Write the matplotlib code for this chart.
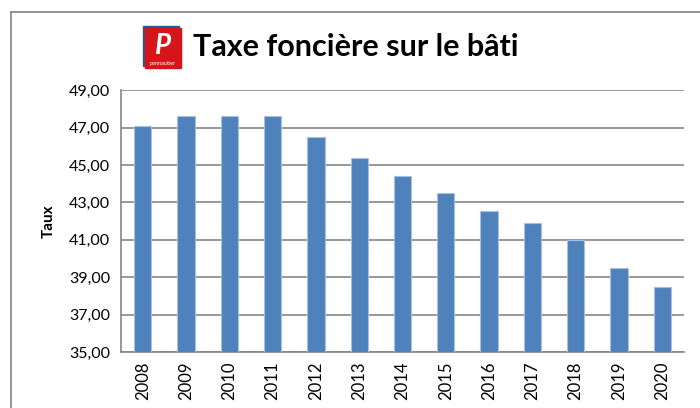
import matplotlib.pyplot as plt
from matplotlib.patches import Rectangle
from matplotlib.lines import Line2D

years = ["2008", "2009", "2010", "2011", "2012", "2013", "2014",
         "2015", "2016", "2017", "2018", "2019", "2020"]
taux = [47.10, 47.60, 47.60, 47.60, 46.50, 45.40, 44.40,
        43.50, 42.55, 41.90, 41.00, 39.50, 38.50]
yticks = [35, 37, 39, 41, 43, 45, 47, 49]

plt.rcParams['font.family'] = ['Lato', 'DejaVu Sans']

fig = plt.figure(figsize=(7, 4.08), dpi=100)
ax = fig.add_axes([0.173, 0.137, 0.804, 0.642])

x = range(len(years))
ax.bar(x, taux, width=0.4, color="#4F81BD", edgecolor="#A7C0DE",
       linewidth=0.8, zorder=3)
ax.set_xlim(-0.5, len(years) - 0.5)
ax.set_ylim(35, 49)
ax.set_yticks(yticks)
ax.set_yticklabels([f"{v:.2f}".replace(".", ",") for v in yticks], fontsize=11.5)
ax.set_xticks(list(x))
ax.set_xticklabels(years, rotation=90, fontsize=12)
ax.tick_params(axis="both", length=0, pad=8)
ax.tick_params(axis="x", pad=7)
ax.grid(axis="y", color="#868686", linewidth=1.2, zorder=0)
for s in ["top", "right"]:
    ax.spines[s].set_visible(False)
ax.spines["left"].set_color("#868686")
ax.spines["bottom"].set_color("#868686")
ax.spines["left"].set_linewidth(1.2)
ax.spines["bottom"].set_linewidth(1.2)
ax.set_ylabel("Taux", fontsize=11, fontweight="bold", labelpad=9)

# outer chart frame
fig.add_artist(Line2D([11 / 700, 11 / 700], [0, 1 - 12 / 408], color="#8c8c8c", lw=1.3))
fig.add_artist(Line2D([11 / 700, 1], [1 - 12 / 408, 1 - 12 / 408], color="#8c8c8c", lw=1.3))

# logo
fig.add_artist(Rectangle((143 / 700, 1 - 66 / 408), 36 / 700, 40 / 408,
                         transform=fig.transFigure, color="#1F5F8B"))
fig.add_artist(Rectangle((145 / 700, 1 - 68 / 408), 36 / 700, 40 / 408,
                         transform=fig.transFigure, color="#D7141A"))
fig.text(163 / 700, 1 - 46 / 408, "P", color="white", fontsize=20,
         fontweight="bold", fontstyle="italic", ha="center", va="center")
fig.text(163 / 700, 1 - 64 / 408, "pennautier", color="white", fontsize=4,
         ha="center", va="center")

fig.text(193 / 700, 1 - 47 / 408, "Taxe foncière sur le bâti", fontsize=22,
         fontweight="bold", ha="left", va="center")

fig.savefig("out.png", dpi=100)
